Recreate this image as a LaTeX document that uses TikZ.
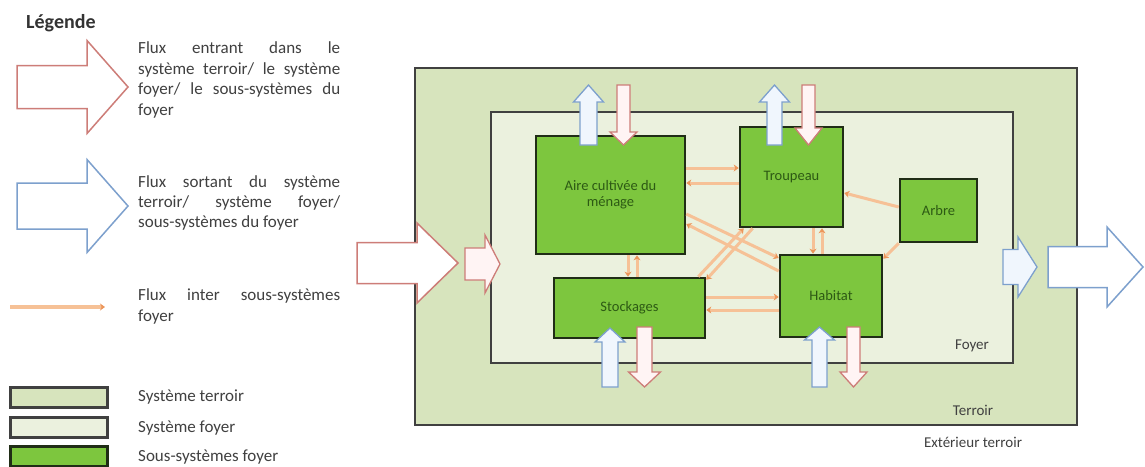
\documentclass[tikz,border=0pt]{standalone}
\usepackage{fontspec}
\setmainfont{Carlito}
\usetikzlibrary{arrows.meta}
\definecolor{terroirfill}{RGB}{215,228,189}
\definecolor{foyerfill}{RGB}{235,241,222}
\definecolor{subfill}{RGB}{125,198,62}
\definecolor{subdraw}{RGB}{32,45,22}
\definecolor{framedraw}{RGB}{64,64,64}
\definecolor{labelgreen}{RGB}{45,90,20}
\definecolor{txt}{RGB}{64,64,64}
\definecolor{inred}{RGB}{205,125,120}
\definecolor{infill}{RGB}{255,244,244}
\definecolor{outblue}{RGB}{125,160,205}
\definecolor{outfill}{RGB}{240,246,253}
\definecolor{fluxline}{RGB}{246,193,150}
\definecolor{fluxtip}{RGB}{236,150,90}
\newcommand{\harrowpath}[6]{(#1,#4-#5) -- (#2,#4-#5) -- (#2,#4-#6) -- (#3,#4) -- (#2,#4+#6) -- (#2,#4+#5) -- (#1,#4+#5) -- cycle}
\newcommand{\varrowpath}[6]{(#1-#5,#2) -- (#1-#5,#3) -- (#1-#6,#3) -- (#1,#4) -- (#1+#6,#3) -- (#1+#5,#3) -- (#1+#5,#2) -- cycle}
\tikzset{
  frame/.style={draw=framedraw, line width=2.4pt, inner sep=0pt},
  terroir/.style={frame, fill=terroirfill},
  foyer/.style={frame, fill=foyerfill},
  sub/.style={draw=subdraw, line width=2.6pt, fill=subfill, inner sep=0pt,
    text=labelgreen, font=\fontsize{14.5}{16}\selectfont, align=center},
  inarrow/.style={draw=inred, line width=1.3pt, fill=infill, line join=miter},
  outarrow/.style={draw=outblue, line width=1.3pt, fill=outfill, line join=miter},
  bigin/.style={draw=inred, line width=1.5pt, fill=white, line join=miter},
  bigout/.style={draw=outblue, line width=1.5pt, fill=white, line join=miter},
  flux/.style={draw=fluxline, line width=3pt,
    -{Stealth[length=5pt,width=7pt,color=fluxtip]}},
  legtxt/.style={anchor=base west, inner sep=0pt, text=txt, font=\fontsize{17}{20}\selectfont},
  maintxt/.style={inner sep=0pt, text=txt, font=\fontsize{15}{18}\selectfont},
}
\begin{document}
\begin{tikzpicture}[x=1pt,y=-1pt]
\useasboundingbox[fill=white] (0,0) rectangle (1145,466);

% ---------- Legend ----------
\node[anchor=base west, inner sep=0pt, text=txt!80!black, font=\fontsize{20}{22}\selectfont\bfseries] (legtitle) at (26,28.5) {Légende};

\draw[bigin] \harrowpath{17}{87}{128}{87}{21.5}{46.5};
\node[legtxt] (r1) at (138,53.5) {\makebox[202pt][s]{Flux entrant dans le}};
\node[legtxt] (r2) at (138,74) {\makebox[202pt][s]{système terroir/ le système}};
\node[legtxt] (r3) at (138,94.5) {\makebox[202pt][s]{foyer/ le sous-systèmes du}};
\node[legtxt] (r4) at (138,115) {foyer};

\draw[bigout] \harrowpath{17}{87}{128}{206}{23}{46.5};
\node[legtxt] (b1) at (138,187.5) {\makebox[202pt][s]{Flux sortant du système}};
\node[legtxt] (b2) at (138,207.5) {\makebox[202pt][s]{terroir/ système foyer/}};
\node[legtxt] (b3) at (138,227) {sous-systèmes du foyer};

\coordinate (lfa) at (10,307);
\coordinate (lfb) at (105,307);
\draw[flux, line width=3.5pt] (lfa) -- (lfb);
\node[legtxt] (o1) at (138,300.5) {\makebox[202pt][s]{Flux inter sous-systèmes}};
\node[legtxt] (o2) at (138,321) {foyer};

\node[terroir, line width=3pt, minimum width=97pt, minimum height=20pt] (lterroir) at (58.5,397) {};
\node[foyer, line width=3pt, minimum width=97pt, minimum height=20pt] (lfoyer) at (58.5,427) {};
\node[sub, line width=3pt, minimum width=97pt, minimum height=20pt] (lsub) at (58.5,456) {};
\node[legtxt] (t1) at (138,401.5) {Système terroir};
\node[legtxt] (t2) at (138,432) {Système foyer};
\node[legtxt] (t3) at (138,461) {Sous-systèmes foyer};

% ---------- Main diagram ----------
\node[terroir, minimum width=662pt, minimum height=357pt] (terroir) at (746,246.5) {};
\node[foyer, minimum width=522pt, minimum height=251pt] (foyer) at (752,237.5) {};

\node[maintxt] (lblfoyer) at (972,346) {Foyer};
\node[maintxt] (lblterroir) at (973,410) {Terroir};
\node[maintxt] (lblext) at (973,442) {Extérieur terroir};

\node[sub, minimum width=149pt, minimum height=118pt] (aire) at (610.5,195) {Aire cultivée du\\ménage};
\node[sub, minimum width=103pt, minimum height=100pt] (trou) at (791.5,177) {Troupeau};
\node[sub, minimum width=77pt, minimum height=63pt] (arbre) at (938.5,210.5) {Arbre};
\node[sub, minimum width=151pt, minimum height=60pt] (stock) at (629.5,308) {Stockages};
\node[sub, minimum width=102pt, minimum height=82pt] (hab) at (831,296) {Habitat};

% inter sub-system flows
\draw[flux] ([yshift=27pt]aire.east) -- ([yshift=27pt]aire.east -| trou.west);
\draw[flux] ([yshift=12pt]aire.east -| trou.west) -- ([yshift=12pt]aire.east);
\draw[flux] ([xshift=17.5pt]aire.south) -- ([xshift=17.5pt]aire.south |- stock.north);
\draw[flux] ([xshift=26.5pt]aire.south |- stock.north) -- ([xshift=26.5pt]aire.south);
\draw[flux] ([xshift=21.5pt]trou.south) -- ([xshift=21.5pt]trou.south |- hab.north);
\draw[flux] ([xshift=30.5pt]trou.south |- hab.north) -- ([xshift=30.5pt]trou.south);
\draw[flux] ([yshift=11pt]stock.east) -- ([yshift=11pt]stock.east -| hab.west);
\draw[flux] ([yshift=-2pt]stock.east -| hab.west) -- ([yshift=-2pt]stock.east);
\draw[flux] ([yshift=-19pt]aire.east) -- ([yshift=38pt]hab.west);
\draw[flux] ([yshift=25pt]hab.west) -- ([yshift=-29pt]aire.east);
\draw[flux] ([xshift=-8pt]stock.north east) -- ([xshift=5pt]trou.south west);
\draw[flux] ([xshift=14pt]trou.south west) -- ([yshift=-3pt]stock.north east);
\draw[flux] ([yshift=3.5pt]arbre.west) -- ([yshift=-16pt]trou.east);
\draw[flux] (arbre.south west) -- ([yshift=-5pt]hab.north east);

% system-level flows
\draw[bigin] \harrowpath{357}{417}{458}{263}{20.5}{40};
\draw[inarrow] \harrowpath{465}{485}{500}{264}{16}{29};
\draw[outarrow] \harrowpath{1003}{1018}{1037}{267}{17.5}{30};
\draw[bigout] \harrowpath{1048}{1107}{1143}{267}{20.5}{40};

% sub-system exchanges with outside
\draw[outarrow] \varrowpath{588.5}{145}{102}{85}{8.5}{15};
\draw[inarrow] \varrowpath{623.5}{85}{132}{145}{6.5}{13.5};
\draw[outarrow] \varrowpath{774.5}{145}{102}{85}{7.5}{15};
\draw[inarrow] \varrowpath{808.5}{85}{128}{145}{6.5}{13.5};
\draw[outarrow] \varrowpath{610}{387}{342}{328}{8}{15};
\draw[inarrow] \varrowpath{644.5}{327}{372}{387}{7.5}{16};
\draw[outarrow] \varrowpath{819.5}{387}{340}{327}{7.5}{15};
\draw[inarrow] \varrowpath{853.5}{327}{372}{387}{6.5}{13.5};
\end{tikzpicture}
\end{document}
